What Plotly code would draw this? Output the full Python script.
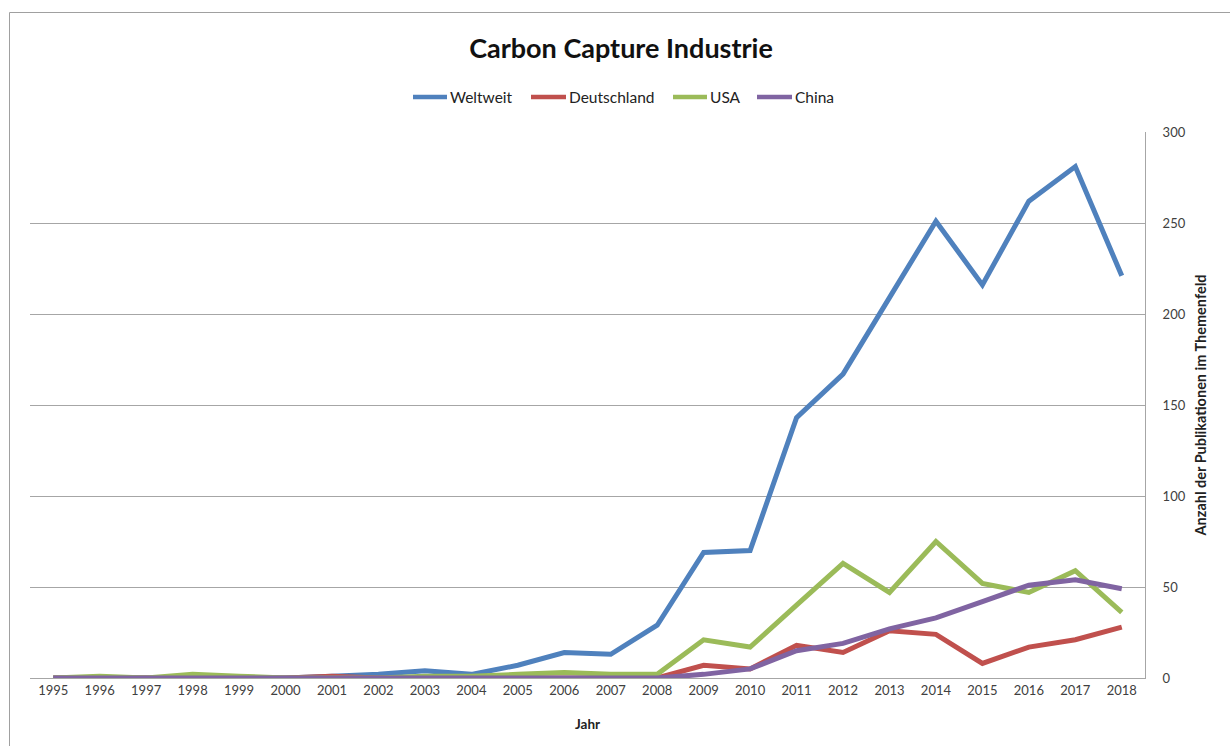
import plotly.graph_objects as go

# Publications per year in the "Carbon Capture" field
years = [str(y) for y in range(1995, 2019)]

weltweit = [0, 0, 0, 0, 0, 0, 1, 2, 4, 2, 7, 14, 13, 29, 69, 70, 143, 167, 209, 251, 216, 262, 281, 221]
deutschland = [0, 0, 0, 0, 0, 0, 1, 0, 0, 0, 0, 0, 0, 0, 7, 5, 18, 14, 26, 24, 8, 17, 21, 28]
usa = [0, 1, 0, 2, 1, 0, 0, 0, 1, 1, 2, 3, 2, 2, 21, 17, 40, 63, 47, 75, 52, 47, 59, 36]
china = [0, 0, 0, 0, 0, 0, 0, 0, 0, 0, 0, 0, 0, 0, 2, 5, 15, 19, 27, 33, 42, 51, 54, 49]

series_names = ["Weltweit", "Deutschland", "USA", "China"]
series_values = [weltweit, deutschland, usa, china]
series_colors = ["#4F81BD", "#C0504D", "#9BBB59", "#8064A2"]

FONT = "Lato"
W, H = 1230, 746
ML, MR, MT, MB = 30, 85, 132, 68
PW, PH = W - ML - MR, H - MT - MB


def px_x(p):
    return (p - ML) / PW


def px_y(p):
    return (H - MB - p) / PH


fig = go.Figure()
for name, vals, col in zip(series_names, series_values, series_colors):
    fig.add_trace(go.Scatter(
        x=years, y=vals, name=name, mode="lines",
        line=dict(color=col, width=5), showlegend=False,
    ))

fig.update_layout(
    width=W, height=H,
    margin=dict(l=ML, r=MR, t=MT, b=MB),
    paper_bgcolor="white", plot_bgcolor="white",
    font=dict(family=FONT, color="#404040", size=13),
    title=dict(
        text="<b>Carbon Capture Industrie</b>",
        font=dict(family=FONT, size=27, color="#111111"),
        x=px_x(621), xref="paper", xanchor="center",
        y=1 - 49 / H, yref="container", yanchor="middle",
    ),
)

fig.update_xaxes(
    type="category", range=[-0.5, len(years) - 0.5],
    showgrid=False, showline=True, linecolor="#a6a6a6", linewidth=1,
    ticks="", tickfont=dict(size=13, color="#404040"),
    title=dict(text="<b>Jahr</b>", font=dict(size=13.5, color="#222222"), standoff=22),
    zeroline=False,
)

fig.update_yaxes(
    side="right", range=[0, 300], dtick=50,
    showgrid=True, gridcolor="#a6a6a6", gridwidth=1,
    showline=True, linecolor="#a6a6a6", linewidth=1,
    ticks="", ticklabelstandoff=14,
    tickfont=dict(size=13, color="#404040"),
    title=dict(text="<b>Anzahl der Publikationen im Themenfeld</b>",
               font=dict(size=14.5, color="#222222"), standoff=11),
    zeroline=False,
)

# Legend row: a short line sample followed by the series name
legend_line_x = [(413, 447), (531, 566), (673, 707), (757, 792)]
LEG_Y = 97
for (x0, x1), name, col in zip(legend_line_x, series_names, series_colors):
    fig.add_shape(
        type="line", xref="paper", yref="paper",
        x0=px_x(x0), x1=px_x(x1), y0=px_y(LEG_Y), y1=px_y(LEG_Y),
        line=dict(color=col, width=4.5),
    )
    fig.add_annotation(
        xref="paper", yref="paper", x=px_x(x1 + 1), y=px_y(LEG_Y),
        xanchor="left", yanchor="middle", showarrow=False,
        text=name, font=dict(family=FONT, size=15.5, color="#222222"),
    )

# Chart frame
fig.add_shape(
    type="rect", xref="paper", yref="paper",
    x0=px_x(9.5), x1=px_x(1240), y0=px_y(760), y1=px_y(12.5),
    line=dict(color="#a0a0a0", width=1), fillcolor="rgba(0,0,0,0)", layer="below",
)

fig.write_html("out.html")
